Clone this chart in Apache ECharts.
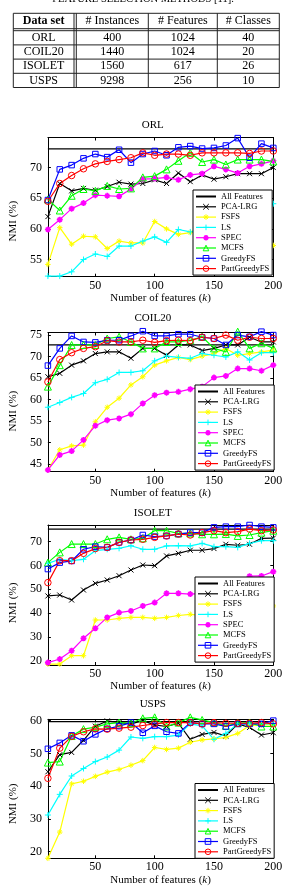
<!DOCTYPE html>
<html><head><meta charset="utf-8">
<script src="https://cdn.jsdelivr.net/npm/echarts@6/dist/echarts.min.js"></script>
<style>html,body{margin:0;padding:0;background:#fff}#c{width:286px;height:888px}</style>
</head><body><div id="c"></div>
<script>
// ---------------- data ----------------
const captionText = 'FEATURE SELECTION METHODS [11].';
const tableHeader = ['Data set', '# Instances', '# Features', '# Classes'];
const tableDatasets = ['ORL', 'COIL20', 'ISOLET', 'USPS'];
const tableInstances = [400, 1440, 1560, 9298];
const tableFeatures = [1024, 1024, 617, 256];
const tableClasses = [40, 20, 26, 10];

const kValues = [10,20,30,40,50,60,70,80,90,100,110,120,130,140,150,160,170,180,190,200];
const xTicks = [50, 100, 150, 200];
const chartTitles = ['ORL', 'COIL20', 'ISOLET', 'USPS'];
const xAxisTitle = 'Number of features ({i|k})';
const yAxisTitle = 'NMI (%)';
const methodNames = ['All Features','PCA-LRG','FSFS','LS','SPEC','MCFS','GreedyFS','PartGreedyFS'];

// ORL
const orlTicks = [55, 60, 65, 70];
const orlAll = 73.06;
const orlPCA = [62.0,67.4,66.2,66.6,66.3,66.9,67.6,67.3,67.4,68.0,67.4,69.1,67.7,68.8,68.1,68.5,69.0,69.0,69.0,70.0];
const orlFSFS = [54.2,60.2,57.5,58.8,58.7,56.8,58.0,57.7,57.7,61.2,60.0,59.1,59.4,59.5,59.0,58.6,58.3,58.1,57.6,57.3];
const orlLS = [52.3,52.3,53.0,55.0,55.9,55.5,57.2,57.2,58.0,58.7,57.8,59.9,59.5,60.0,60.6,61.0,61.6,62.0,62.4,64.1];
const orlSPEC = [59.9,61.5,63.3,64.2,65.5,65.4,65.3,66.5,68.1,68.2,68.4,68.0,68.8,69.0,70.2,69.7,69.1,70.2,70.6,71.1];
const orlMCFS = [64.8,63.0,65.4,66.5,66.2,67.0,66.5,66.6,68.4,68.6,69.7,71.1,72.4,70.9,71.3,70.5,71.3,71.3,71.3,71.0];
const orlGreedy = [64.7,69.7,70.4,71.5,72.2,71.7,72.9,70.8,72.2,72.7,72.0,73.3,73.5,73.1,73.2,73.6,74.8,71.6,73.9,73.2];
const orlPartGreedy = [64.5,67.4,68.7,69.8,70.6,71.0,71.3,71.6,72.4,72.0,72.2,72.2,72.0,72.4,72.4,72.4,72.4,72.3,72.7,72.7];

// COIL20
const coilTicks = [45, 50, 55, 60, 65, 70, 75];
const coilAll = 72.7;
const coilPCA = [65.3,66.1,68.0,69.0,70.7,71.1,71.1,69.6,71.9,71.9,70.3,72.7,72.7,71.4,71.9,72.7,72.7,74.5,73.4,73.4];
const coilFSFS = [43.6,48.3,49.2,49.4,54.8,58.2,60.3,63.4,65.3,68.0,69.0,69.8,69.3,70.1,70.7,71.9,70.3,70.7,71.1,71.5];
const coilLS = [58.2,59.3,60.5,61.4,63.9,64.7,66.3,66.3,66.7,69.0,70.1,69.8,69.6,70.7,70.3,69.9,71.1,69.2,70.9,70.9];
const coilSPEC = [43.6,47.1,48.0,50.6,53.9,55.2,55.6,56.6,59.1,61.0,61.6,61.8,62.4,63.0,65.1,65.5,67.2,67.2,66.7,68.0];
const coilMCFS = [63.0,68.0,72.7,72.7,72.7,74.2,74.6,73.4,71.9,71.9,73.4,73.4,73.8,74.6,71.9,71.1,75.8,71.9,73.1,71.9];
const coilGreedy = [67.9,71.9,74.8,73.4,73.3,73.8,73.8,74.8,75.9,74.8,74.8,75.2,75.2,74.5,74.2,72.7,75.0,74.6,75.8,75.0];
const coilPartGreedy = [64.1,69.3,70.9,71.9,72.3,73.7,73.4,73.4,73.8,73.3,73.7,73.8,73.7,74.5,74.2,75.0,73.8,74.5,74.2,74.2];

// ISOLET
const isoletTicks = [20, 30, 40, 50, 60, 70];
const isoletAll = 75.3;
const isoletPCA = [47.2,47.6,45.5,49.7,52.5,53.9,55.7,58.1,60.2,59.9,64.0,65.1,66.4,66.4,67.1,68.9,68.5,68.9,71.4,71.5];
const isoletFSFS = [18.6,18.6,22.1,22.1,37.1,37.1,37.8,38.2,38.2,37.8,38.2,39.0,39.5,39.0,38.8,39.5,40.2,41.0,41.8,43.0];
const isoletLS = [60.9,62.6,62.0,62.6,66.2,66.8,67.2,68.3,66.8,66.8,68.2,68.3,68.2,69.3,67.9,67.9,67.6,69.3,70.4,70.4];
const isoletSPEC = [19.2,20.7,24.2,29.4,33.6,38.2,40.2,40.9,43.0,44.4,48.3,48.3,48.0,48.3,49.5,51.0,53.0,55.5,55.6,57.4];
const isoletMCFS = [61.2,65.5,69.0,69.0,69.0,71.0,71.8,71.0,71.4,74.6,74.6,73.5,73.5,73.1,73.1,73.2,72.4,72.8,73.8,74.6];
const isoletGreedy = [58.5,61.2,61.9,66.8,67.9,67.6,69.7,70.7,72.8,72.1,72.4,73.2,73.8,73.8,76.0,76.3,76.3,77.0,76.3,76.0];
const isoletPartGreedy = [52.8,62.0,62.0,65.1,67.1,67.6,69.7,70.7,71.0,71.8,72.4,73.2,72.8,73.8,74.6,73.8,74.2,75.3,74.6,74.9];

// USPS (no SPEC)
const uspsTicks = [20, 30, 40, 50, 60];
const uspsAll = 59.7;
const uspsPCA = [44.4,49.6,50.3,54.0,58.3,59.9,59.4,59.0,60.0,58.7,58.2,59.2,54.3,55.8,56.4,55.3,59.0,57.9,55.6,56.3];
const uspsFSFS = [18.0,26.0,40.7,41.5,43.0,44.3,45.1,46.4,47.8,51.8,51.2,51.6,53.4,54.1,54.4,54.9,56.1,58.5,58.7,58.7];
const uspsLS = [31.2,37.5,43.1,45.4,47.5,48.9,51.0,55.0,54.6,55.1,55.1,55.6,59.0,58.4,54.3,56.1,59.0,59.0,59.0,59.0];
const uspsMCFS = [47.2,47.5,55.3,57.4,58.0,59.0,59.4,59.2,60.7,61.0,58.2,59.4,61.0,60.2,59.4,58.4,59.2,59.4,58.2,58.2];
const uspsGreedy = [51.4,53.2,55.5,53.7,55.8,57.5,58.3,59.4,56.3,58.4,56.6,56.1,59.4,59.0,59.0,58.2,59.0,59.0,59.0,60.0];
const uspsPartGreedy = [42.4,51.6,55.2,56.6,57.5,57.4,57.7,58.0,58.5,59.0,59.4,59.4,59.4,59.0,59.4,59.2,59.2,59.2,59.4,59.0];

// ---------------- layout / style ----------------
const FONT = '"Liberation Serif", "Times New Roman", serif';
const chartData = [
  { all: orlAll, ticks: orlTicks, series: {'PCA-LRG':orlPCA,'FSFS':orlFSFS,'LS':orlLS,'SPEC':orlSPEC,'MCFS':orlMCFS,'GreedyFS':orlGreedy,'PartGreedyFS':orlPartGreedy} },
  { all: coilAll, ticks: coilTicks, series: {'PCA-LRG':coilPCA,'FSFS':coilFSFS,'LS':coilLS,'SPEC':coilSPEC,'MCFS':coilMCFS,'GreedyFS':coilGreedy,'PartGreedyFS':coilPartGreedy} },
  { all: isoletAll, ticks: isoletTicks, series: {'PCA-LRG':isoletPCA,'FSFS':isoletFSFS,'LS':isoletLS,'SPEC':isoletSPEC,'MCFS':isoletMCFS,'GreedyFS':isoletGreedy,'PartGreedyFS':isoletPartGreedy} },
  { all: uspsAll, ticks: uspsTicks, series: {'PCA-LRG':uspsPCA,'FSFS':uspsFSFS,'LS':uspsLS,'MCFS':uspsMCFS,'GreedyFS':uspsGreedy,'PartGreedyFS':uspsPartGreedy} }
];
const layouts = [
  { top: 137.5, bottom: 276.7, ymin: 52.2, ymax: 74.9, titleY: 125, legendLeft: 193, legendTop: 190, nameShift: 14 },
  { top: 332.5, bottom: 471.7, ymin: 43.2, ymax: 75.6, titleY: 318, legendLeft: 195, legendTop: 385, nameShift: 9 },
  { top: 525.0, bottom: 665.0, ymin: 18.2, ymax: 77.0, titleY: 513, legendLeft: 195, legendTop: 577, nameShift: 8 },
  { top: 719.3, bottom: 858.3, ymin: 18.0, ymax: 60.4, titleY: 704.5, legendLeft: 195, legendTop: 783.5, nameShift: 15 }
];
const PLOT_LEFT = 32.3, PLOT_RIGHT = 273.3;

const SYM_X = 'path://M0,0L10,10M10,0L0,10';
const SYM_PLUS = 'path://M5,0L5,10M0,5L10,5';
const SYM_STAR = 'path://M5,0L5,10M0,5L10,5M1.6,1.6L8.4,8.4M8.4,1.6L1.6,8.4';
const styles = {
  'All Features': { color: '#000000', symbol: 'none' },
  'PCA-LRG': { color: '#000000', symbol: SYM_X, size: 5, stroke: true },
  'FSFS': { color: '#ffff00', symbol: SYM_STAR, size: 5.5, stroke: true },
  'LS': { color: '#00ffff', symbol: SYM_PLUS, size: 6, stroke: true },
  'SPEC': { color: '#ff00ff', symbol: SYM_STAR, size: 6, stroke: true, bw: 1.6 },
  'MCFS': { color: '#00ff00', symbol: 'triangle', size: 7 },
  'GreedyFS': { color: '#0000ff', symbol: 'rect', size: 5.5 },
  'PartGreedyFS': { color: '#ff0000', symbol: 'circle', size: 6.5 }
};

function itemStyleFor(st) {
  if (st.symbol === 'none') return { color: st.color };
  if (st.stroke) return { color: st.color, borderColor: st.color, borderWidth: st.bw || 1 };
  return { color: 'rgba(255,255,255,0)', borderColor: st.color, borderWidth: 1 };
}

const grid = [], xAxis = [], yAxis = [], series = [], legend = [], graphicEls = [];
layouts.forEach((L, gi) => {
  const cd = chartData[gi];
  grid.push({ left: PLOT_LEFT, width: PLOT_RIGHT - PLOT_LEFT, top: L.top, height: L.bottom - L.top, containLabel: false });
  const axCommon = {
    gridIndex: gi, type: 'value', splitLine: { show: false },
    axisLine: { show: true, onZero: false, lineStyle: { color: '#000', width: 1 } }
  };
  xAxis.push(Object.assign({}, axCommon, {
    position: 'bottom', min: kValues[0], max: kValues[kValues.length - 1],
    axisTick: { show: true, inside: true, length: 3, customValues: xTicks, lineStyle: { color: '#000' } },
    axisLabel: { customValues: xTicks, margin: 3, color: '#000', fontFamily: FONT, fontSize: 12 },
    name: xAxisTitle, nameLocation: 'middle', nameGap: 12,
    nameTextStyle: { color: '#000', fontFamily: FONT, fontSize: 11, rich: { i: { fontStyle: 'italic', fontFamily: FONT, fontSize: 11, color: '#000' } } }
  }));
  xAxis.push(Object.assign({}, axCommon, {
    position: 'top', min: kValues[0], max: kValues[kValues.length - 1],
    axisTick: { show: true, inside: true, length: 3, customValues: xTicks, lineStyle: { color: '#000' } },
    axisLabel: { show: false }
  }));
  yAxis.push(Object.assign({}, axCommon, {
    position: 'left', min: L.ymin, max: L.ymax,
    axisTick: { show: true, inside: true, length: 3, customValues: cd.ticks, lineStyle: { color: '#000' } },
    axisLabel: { customValues: cd.ticks, margin: 6, color: '#000', fontFamily: FONT, fontSize: 12 },
    name: yAxisTitle, nameLocation: 'middle', nameGap: 16,
    nameTextStyle: { color: '#000', fontFamily: FONT, fontSize: 11, padding: [0, L.nameShift * 2, 0, 0] }
  }));
  yAxis.push(Object.assign({}, axCommon, {
    position: 'right', min: L.ymin, max: L.ymax,
    axisTick: { show: true, inside: true, length: 3, customValues: cd.ticks, lineStyle: { color: '#000' } },
    axisLabel: { show: false }
  }));

  const names = methodNames.filter(n => n === 'All Features' || cd.series[n]);
  names.forEach(n => {
    const st = styles[n];
    let data;
    if (n === 'All Features') {
      data = [[kValues[0], cd.all], [kValues[kValues.length - 1], cd.all]];
    } else {
      data = kValues.map((k, i) => [k, cd.series[n][i]]);
    }
    series.push({
      type: 'line', name: n, xAxisIndex: gi * 2, yAxisIndex: gi * 2, data,
      symbol: st.symbol, symbolSize: st.size || 0, showSymbol: st.symbol !== 'none',
      clip: false, silent: true, animation: false,
      lineStyle: { color: st.color, width: 1.2 },
      itemStyle: itemStyleFor(st),
      emphasis: { disabled: true }
    });
  });
  legend.push({
    data: names.map(n => {
      const st = styles[n];
      if (n === 'All Features') return { name: n, itemStyle: { opacity: 0 } };
      return { name: n, itemStyle: itemStyleFor(st), lineStyle: { color: st.color, width: 1.2 } };
    }),
    orient: 'vertical', left: L.legendLeft, top: L.legendTop,
    selectedMode: false, backgroundColor: '#fff', borderColor: '#000', borderWidth: 1,
    padding: [1.5, 3, 1.5, 2], itemGap: 0.3, itemWidth: 20, itemHeight: 7,
    textStyle: { fontFamily: FONT, fontSize: 8.5, color: '#000', lineHeight: 10 }
  });
  graphicEls.push({
    type: 'text', x: (PLOT_LEFT + PLOT_RIGHT) / 2, y: L.titleY,
    style: { text: chartTitles[gi], fill: '#000', font: '11px ' + FONT, align: 'center', verticalAlign: 'middle' }
  });
});

// table
const colX = [13.3, 74.0, 148.3, 217.3, 279.3];
const tTop = 13.3, tHeadBottom = 28.7, tBodyTop = 30.7, tBottom = 87.5;
const rowH = (tBottom - tBodyTop) / tableDatasets.length;
const lineStyle = { stroke: '#222', lineWidth: 1 };
function hline(y, x1, x2) { graphicEls.push({ type: 'line', shape: { x1, y1: y, x2, y2: y }, style: lineStyle }); }
function vline(x, y1, y2) { graphicEls.push({ type: 'line', shape: { x1: x, y1, x2: x, y2 }, style: lineStyle }); }
hline(tTop, colX[0], colX[4]);
hline(tHeadBottom, colX[0], colX[4]);
hline(tBodyTop, colX[0], colX[4]);
for (let r = 1; r < tableDatasets.length; r++) hline(tBodyTop + r * rowH, colX[0], colX[4]);
hline(tBottom, colX[0], colX[4]);
vline(colX[0], tTop, tBottom);
vline(colX[1], tTop, tBottom);
vline(colX[1] + 2.3, tTop, tBottom);
vline(colX[2], tTop, tBottom);
vline(colX[3], tTop, tBottom);
vline(colX[4], tTop, tBottom);
const colCenters = [(colX[0] + colX[1]) / 2, (colX[1] + 2.3 + colX[2]) / 2, (colX[2] + colX[3]) / 2, (colX[3] + colX[4]) / 2];
tableHeader.forEach((h, c) => {
  graphicEls.push({ type: 'text', x: colCenters[c], y: (tTop + tHeadBottom) / 2,
    style: { text: h, fill: '#000', font: (c === 0 ? 'bold ' : '') + '12px ' + FONT, align: 'center', verticalAlign: 'middle' } });
});
tableDatasets.forEach((d, r) => {
  const vals = [d, tableInstances[r], tableFeatures[r], tableClasses[r]];
  const cy = tBodyTop + (r + 0.5) * rowH;
  vals.forEach((v, c) => {
    graphicEls.push({ type: 'text', x: colCenters[c], y: cy,
      style: { text: String(v), fill: '#000', font: '12px ' + FONT, align: 'center', verticalAlign: 'middle' } });
  });
});
graphicEls.push({ type: 'text', x: 143, y: 4.5,
  style: { text: captionText, fill: '#000', font: '10.5px ' + FONT, align: 'center', verticalAlign: 'bottom' } });

const chart = echarts.init(document.getElementById('c'), null, { renderer: 'canvas' });
chart.setOption({
  animation: false, backgroundColor: '#fff',
  grid, xAxis, yAxis, series, legend,
  graphic: { elements: graphicEls }
});
</script>
</body></html>
